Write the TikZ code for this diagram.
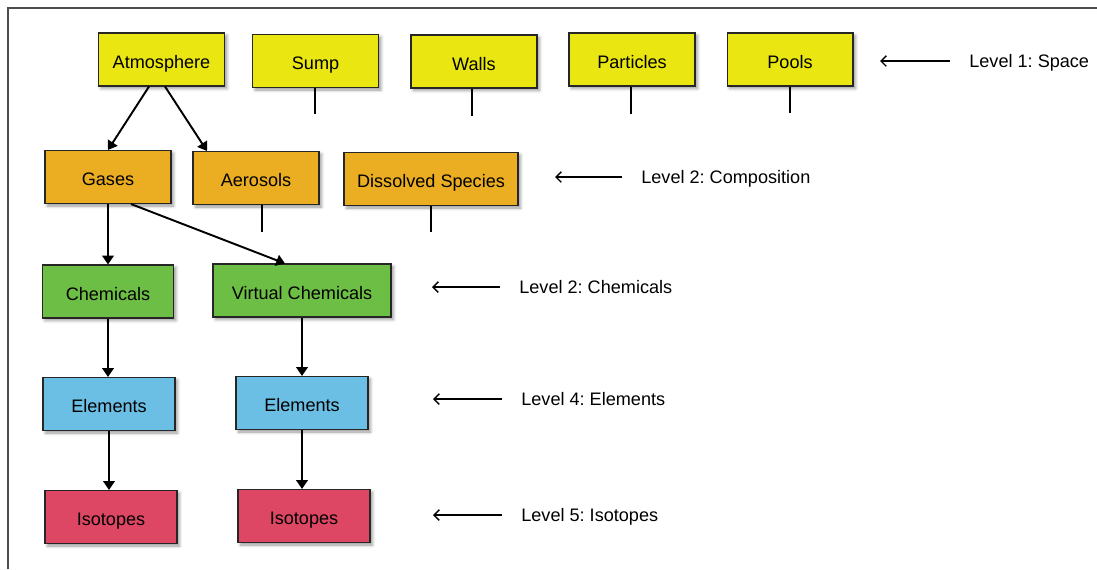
\documentclass[tikz,border=0pt]{standalone}
\usepackage{fontspec}
\setmainfont{Liberation Sans}
\usetikzlibrary{arrows.meta, positioning, shadows.blur}

\definecolor{spaceyellow}{HTML}{E9E612}
\definecolor{compoorange}{HTML}{EBAE22}
\definecolor{chemgreen}{HTML}{6DBE45}
\definecolor{elemblue}{HTML}{6BBFE5}
\definecolor{isored}{HTML}{DD4763}

\begin{document}
\frenchspacing
\begin{tikzpicture}[
    x=0.02cm, y=-0.02cm,
    font=\fontsize{10.3}{12}\selectfont,
    level box/.style={rectangle, draw=black!85, line width=0.6pt, minimum height=1.06cm,
        text height=1.9ex, text depth=0ex,
        blur shadow={shadow xshift=0.05cm, shadow yshift=-0.05cm, shadow blur radius=0.06cm, shadow opacity=40}},
    space node/.style={level box, fill=spaceyellow, minimum width=2.52cm},
    compo node/.style={level box, fill=compoorange, minimum width=2.52cm},
    chem node/.style={level box, fill=chemgreen, minimum width=2.62cm},
    elem node/.style={level box, fill=elemblue, minimum width=2.64cm},
    iso node/.style={level box, fill=isored, minimum width=2.64cm},
    link/.style={-{Triangle[width=6.5pt,length=5pt]}, line width=1.1pt},
    stub/.style={line width=1.1pt},
    pointer/.style={-{Straight Barb[width=6pt,length=3pt]}, line width=0.8pt},
    level label/.style={anchor=west, inner xsep=0.38cm, text height=1.6ex, text depth=0.2ex}
]
\useasboundingbox (0,0) rectangle (1097,569);
\draw[black!70, line width=0.8pt] (8,569) -- (8,8) -- (1097,8);

% level 1
\node[space node] (atm) at (161.5,59.5) {Atmosphere};
\node[space node] (sump) at (315.5,61) {Sump};
\node[space node] (walls) at (474,61.5) {Walls};
\node[space node] (particles) at (632,59.5) {Particles};
\node[space node] (pools) at (790,59.5) {Pools};

% level 2
\node[compo node] (gases) at (108,177) {Gases};
\node[compo node] (aerosols) at (256,178) {Aerosols};
\node[compo node, minimum width=3.48cm] (dissolved) at (431,179) {Dissolved Species};

% level 3
\node[chem node] (chem) at (108,291.5) {Chemicals};
\node[chem node, minimum width=3.56cm] (vchem) at (302,290.5) {Virtual Chemicals};

% level 4
\node[elem node] (elem) at (109,404) {Elements};
\node[elem node] (velem) at (302,403) {Elements};

% level 5
\node[iso node] (iso) at (111,517) {Isotopes};
\node[iso node] (viso) at (304,516) {Isotopes};

% links
\draw[link] ([xshift=-0.25cm]atm.south) -- (gases.north);
\draw[link] ([xshift=0.07cm]atm.south) -- ([xshift=-0.98cm]aerosols.north);
\draw[link] (gases) -- (chem);
\draw[link] ([xshift=0.46cm]gases.south) -- ([xshift=-0.34cm]vchem.north);
\draw[link] (chem) -- (elem.north -| chem);
\draw[link] (vchem) -- (velem.north -| vchem);
\draw[link] (elem) -- (iso.north -| elem);
\draw[link] (velem) -- (viso.north -| velem);

% open ends
\coordinate (sumpend) at (315,114);
\coordinate (wallsend) at (472,116);
\coordinate (partend) at (631,114);
\coordinate (poolsend) at (790,113);
\coordinate (aeroend) at (262,232);
\coordinate (dissend) at (431,232);
\draw[stub] (sump.south -| sumpend) -- (sumpend);
\draw[stub] (walls.south -| wallsend) -- (wallsend);
\draw[stub] (particles.south -| partend) -- (partend);
\draw[stub] (pools.south -| poolsend) -- (poolsend);
\draw[stub] (aerosols.south -| aeroend) -- (aeroend);
\draw[stub] (dissolved.south -| dissend) -- (dissend);

% level labels
\node[level label] (lv1) at (950,61) {Level 1: Space};
\node[level label] (lv2) at (622,177) {Level 2: Composition};
\node[level label] (lv3) at (500,287) {Level 2: Chemicals};
\node[level label] (lv4) at (502,399) {Level 4: Elements};
\node[level label] (lv5) at (502,515) {Level 5: Isotopes};
\coordinate (lv1tip) at (880,61);
\coordinate (lv2tip) at (555,177);
\coordinate (lv3tip) at (432,287);
\coordinate (lv4tip) at (433,399);
\coordinate (lv5tip) at (433,515);
\foreach \lv in {lv1,lv2,lv3,lv4,lv5}
    \draw[pointer] (\lv.west) -- (\lv tip);

\end{tikzpicture}
\end{document}
